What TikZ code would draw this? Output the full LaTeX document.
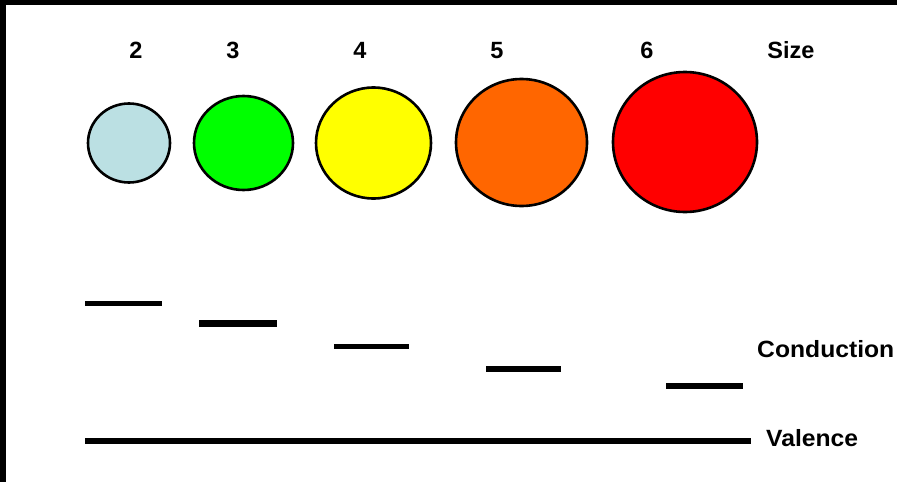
\documentclass[tikz,border=0pt]{standalone}
\usepackage{fontspec}
\setmainfont{Liberation Sans}
\usetikzlibrary{shapes.geometric}
\definecolor{lblue}{HTML}{BBE0E3}
\definecolor{lgreen}{HTML}{00FF00}
\definecolor{lyellow}{HTML}{FFFF00}
\definecolor{lorange}{HTML}{FF6600}
\definecolor{lred}{HTML}{FF0000}
\begin{document}
\begin{tikzpicture}[x=1pt,y=-1pt,
  ball/.style={ellipse,draw=black,line width=2.6pt,inner sep=0pt,outer sep=0pt},
  lab/.style={inner sep=0pt,font=\fontsize{23.5}{28}\selectfont\bfseries},
  level/.style={line width=5.5pt,line cap=butt}]
\useasboundingbox (0,0) rectangle (897,482);
\fill[white] (0,0) rectangle (897,482);
\fill[black] (0,0) rectangle (897,5);
\fill[black] (0,0) rectangle (6,482);
% size labels
\node[lab,anchor=base] (s2) at (136,58.5) {2};
\node[lab,anchor=base] (s3) at (233,58.5) {3};
\node[lab,anchor=base] (s4) at (360,58.5) {4};
\node[lab,anchor=base] (s5) at (497,58.5) {5};
\node[lab,anchor=base] (s6) at (647,58.5) {6};
\node[lab,anchor=base] (size) at (791,58.5) {Size};
% balls
\node[ball,fill=lblue,minimum width=82pt,minimum height=79pt] (b2) at (129,143) {};
\node[ball,fill=lgreen,minimum width=99pt,minimum height=94pt] (b3) at (243.5,143) {};
\node[ball,fill=lyellow,minimum width=115pt,minimum height=111pt] (b4) at (373.5,143) {};
\node[ball,fill=lorange,minimum width=131pt,minimum height=127pt] (b5) at (521.5,142.5) {};
\node[ball,fill=lred,minimum width=144pt,minimum height=140pt] (b6) at (685,142) {};
% conduction levels
\draw[level] (85,303.5) -- (162,303.5);
\draw[level,line width=7pt] (199,323) -- (277,323);
\draw[level] (334,346.5) -- (409,346.5);
\draw[level] (486,369) -- (561,369);
\draw[level] (666,386) -- (743,386);
% valence
\draw[level,line width=6pt] (85,441) -- (751,441);
\node[lab,anchor=west,xscale=1.05] (cond) at (757,349) {Conduction};
\node[lab,anchor=west,xscale=1.05] (val) at (766,438) {Valence};
\end{tikzpicture}
\end{document}
